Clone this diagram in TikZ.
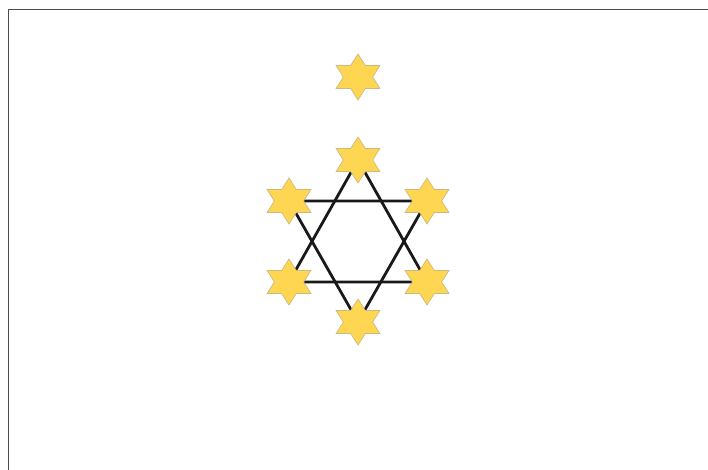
\documentclass[tikz,border=0pt]{standalone}
\usepackage{xcolor}
\usepackage{tikz}
\usetikzlibrary{shapes.geometric,backgrounds}
\definecolor{staryellow}{HTML}{FFD651}
\definecolor{staredge}{HTML}{CDBA7E}
\tikzset{
  hexstar/.style={
    shape = star,
    star points = 6,
    star point ratio = 1.73,
    inner sep = 0pt,
    minimum size = 46pt,
    xscale = 1.1,
    draw = staredge,
    line width = 0.7pt,
    fill = staryellow
  },
  bond/.style={
    line width = 2.8pt,
    draw = black!90
  },
  frameline/.style={
    line width = 1.4pt,
    draw = black!70
  }
}
\begin{document}
\begin{tikzpicture}[x=1pt,y=-1pt]
    \useasboundingbox (0,0) rectangle (708,470);
    \draw[frameline] (8.5,470)--(8.5,9.5)--(708,9.5);
    %% lone star above
    \node[hexstar] (lone) at (358,77) {};
    %% ring of six
    \node[hexstar] (top) at (358,160) {};
    \node[hexstar] (ul) at (289,201) {};
    \node[hexstar] (ur) at (427,201) {};
    \node[hexstar] (ll) at (289,282) {};
    \node[hexstar] (lr) at (427,282) {};
    \node[hexstar] (bot) at (358,322) {};
    \begin{pgfonlayer}{background}
        \draw[bond] (top.center)--(ll.center)--(lr.center)--cycle;
        \draw[bond] (bot.center)--(ul.center)--(ur.center)--cycle;
    \end{pgfonlayer}
\end{tikzpicture}
\end{document}
